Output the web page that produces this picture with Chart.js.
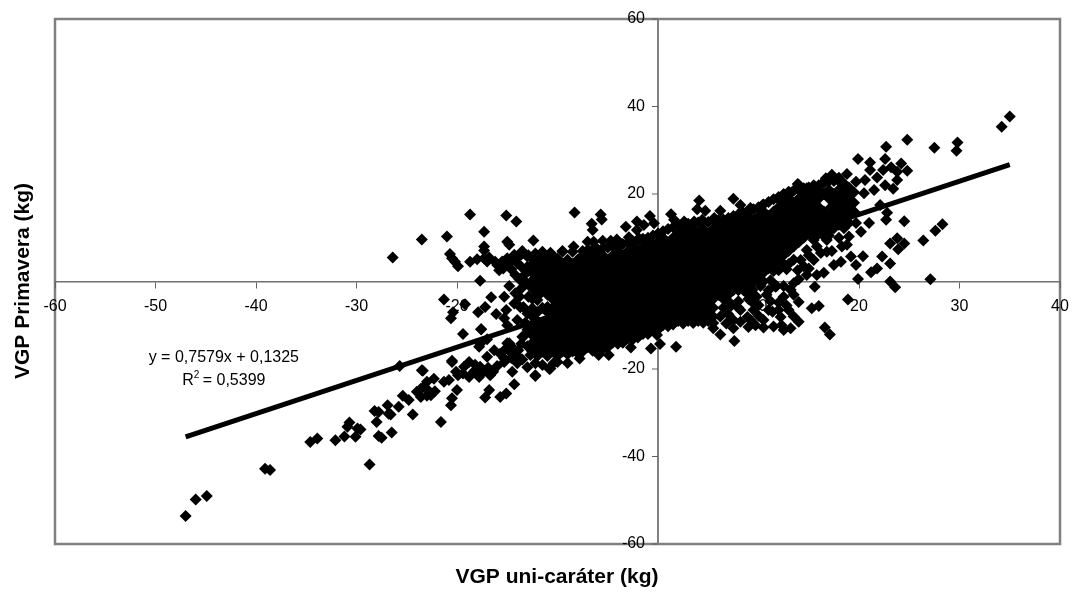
<!DOCTYPE html>
<html>
<head>
<meta charset="utf-8">
<title>VGP</title>
<script src="https://cdn.jsdelivr.net/npm/chart.js@4"></script>
<style>
    body { margin: 0; background: #fff; }
    canvas { display: block; }
</style>
</head>
<body>
<canvas id="chart" width="1072" height="592"></canvas>
<script>
const xTicks = [-60, -50, -40, -30, -20, -10, 0, 10, 20, 30, 40];
const yTicks = [-60, -40, -20, 0, 20, 40, 60];
const xTitle = "VGP uni-caráter (kg)";
const yTitle = "VGP Primavera (kg)";
const equationText = "y = 0,7579x + 0,1325";
const r2Text = " = 0,5399";

const trendX = [-47, 35];
const trendY = [-35.5, 26.7];

const tailPoints = [[-47,-53.6],[-46,-49.8],[-44.9,-49],[-39.1,-42.8],[-38.6,-43.1],[-34.6,-36.7],[-33.9,-35.9],[-32.1,-36.3],[-31.2,-35.4],[-30.9,-33.2],[-30.7,-32.2],[-30.1,-35.5],[-29.9,-33.6],[-29.6,-33.8],[-28.7,-41.8],[-28.2,-29.6],[-27.8,-29.8],[-28,-32.1],[-27.8,-35.3],[-27.5,-35.7],[-26.5,-34.5],[-26.9,-28.3],[-26.8,-30.2],[-26.6,-30.4],[-25.8,-28.6],[-25.4,-26.1],[-24.4,-30.4],[-24.8,-27.1],[-24,-25.2],[-23.5,-20.3],[-23.3,-24.1],[-23.6,-26.4],[-22.6,-26],[-22.3,-22.2],[-23,-22.9],[-21.6,-32.1],[-21.3,-22.9],[-20.6,-28.3],[-20.5,-26.7],[-20,-24.8],[-20.5,-18.1],[-20.1,-20.6],[-20.8,-22.5],[-19.3,-19.5],[-18.8,-18.4],[-18.8,-21.8],[-17.7,-19.5],[-17.8,-21.8],[-16.7,-21.4],[-17.2,-26.5],[-16.8,-24.8],[-15.7,-26.4],[-15.1,-25.6],[-14.3,-23.5],[-16,-19.3],[-17,-17.2],[-16.3,-15.7],[-17.8,-14.9],[-17,-13.2],[-19.4,-12],[-17.6,-10.9],[-15.3,-17.6],[-14.8,-14.1],[-14.5,-20.6],[-14,-18.7],[-14.7,-16.1],[-13.9,-15.7],[-13.5,-12.6],[-12.2,-21.6],[-12.2,-18.7],[-10.8,-20],[-11.5,-19.1],[-12.7,-16.8],[-11.7,-15.7],[-10.4,-18.7],[-23.4,-20.4],[-25.7,-19.3],[-23.6,-24.5],[-22.9,-24.8],[-22.2,-25.1],[-23,-26.1],[-19.9,-21.4],[-19.4,-21],[-18.3,-20.5],[-17.3,-20.4],[-16.9,-19.7],[-16.4,-20.6],[-18.2,-19],[-15.7,-16.5],[-15.2,-15.5],[-14.6,-17.5],[-14,-16.9],[-13.5,-17.8],[-13,-14.8],[-13.6,-14.2],[-13,-19.6],[-14.5,-15],[-13,-11],[-12.5,-12.3],[-11.5,-13],[-13.2,-9.4],[-14,-8.8],[-13.8,-3.5],[-13.7,-5.9]];

const upperLeftPoints = [[-26.4,5.5],[-23.5,9.6],[-21,10.3],[-18.7,15.3],[-17.3,11.4],[-15.1,15.1],[-14.1,13.7],[-12.4,9.4],[-8.3,15.8],[-6.6,13.2],[-6.5,11.8],[-5.7,15.3],[-5.6,14.2],[-3.2,12.5],[-2.1,13.7],[-0.8,15],[-0.4,13.3],[-1.4,12.9],[-2.1,11.8],[-20.7,6.3],[-20.5,5.3],[-19.9,3.5],[-20.2,4.5],[-18.7,4.5],[-18,5.1],[-17.3,8],[-17.3,7.1],[-17.3,5.3],[-16.2,4.5],[-15,9.1],[-14.8,8.4],[-15.8,2.6],[-15,5.3],[-14.3,6.1],[-13.5,7],[-13,5.7],[-14,4.2],[-14.2,1.5],[-13.2,1.7],[-15,3.8],[-12.4,4.9],[-11.5,6.8],[-10.7,6.6],[-9.5,7],[-8.4,8],[-7,9.1],[-6.4,9.1],[-5.5,9.3],[-4.7,9.3],[-4.1,9.6],[-2.9,10.1],[-1.9,9.9],[-0.9,9.1],[0.1,10.6],[-17.7,0.2],[-14.8,-1],[-15.3,-3.5],[-16.6,-3.6],[-14.2,-2.7],[-21.3,-4.1],[-19.2,-5.2],[-17.2,-5.8],[-17.9,-7],[-20.4,-7],[-20.6,-8.4],[-16.1,-7.4],[-15.1,-6.5],[-15.3,-8.4],[-17.6,-10.9],[-15,-10],[-14.3,-5],[-13.4,-5.8],[-12.7,-1.2],[-12.2,1.1],[-10.5,0.3],[-10.9,-1.6],[-12.9,-3.5],[-12,-4.2],[-12.5,-6.1],[-13,-7.3],[-11,-5.8],[-10,-2.7],[-17.7,-14.2],[-15,-14.1],[-13.4,-12.6],[-12.4,-15.7],[-14.3,-17.2],[-15.3,-18.4],[-12.2,-21.4],[-10.7,-19.9],[-9,-18.6],[-7.8,-17.6],[-5.9,-16.8],[-4.9,-16.8],[-2.7,-15.1],[-0.7,-15.3],[0.2,-14.3],[1.8,-14.9],[-0.1,-12.2],[-10,-18.4],[-11,-14.1],[-20.5,-18.4],[-17,4.6],[-16.8,5.5],[-16,3.8],[-15.5,4.6],[-14.6,4.7],[-14,5.4],[-13.6,3.4],[-13,3.4],[-12.6,2.6],[-12.9,6],[-12.2,6.4],[-13.6,6.2],[-12.6,0],[-13.1,-0.3],[-13.8,0.5],[-14.6,2.8],[-15.4,3],[-12.2,-2.4],[-11.9,-3.2],[-13.6,-1.6],[-13.9,-3.2]];

const rightPoints = [[35,37.7],[34.2,35.4],[29.8,31.8],[29.7,29.9],[27.5,30.6],[24.8,32.4],[22.7,30.8],[19.9,28],[21.1,27.2],[22.6,28],[24.2,27],[23.2,26.1],[24.8,25.3],[23.8,25.1],[22.4,25.5],[21.8,23.8],[21.1,25.5],[20.6,23.2],[23.8,23.2],[23.4,21.2],[22.6,22],[21.5,20.9],[20.5,20.2],[22.1,17.5],[22.8,15.7],[22.7,14.1],[24.5,13.8],[28.3,13.1],[27.6,11.6],[26.4,9.4],[24.5,8.7],[23.8,9.9],[23.1,8.7],[23.9,7.4],[22.3,5.7],[23.1,4.1],[20.4,5.8],[21.8,3],[21.2,2.1],[19.9,0.6],[23.1,0],[23.6,-1.3],[27.1,0.5],[18.9,-4.1],[15.6,-1.2],[16,-5.6],[15.3,-6.1],[16.6,-10.5],[17.1,-12.1],[14,-9.2],[13.2,-10.7],[12.5,-11.1],[11.5,-10.3],[9.7,-10],[7.5,-10.7],[6.2,-12.1],[7.6,-13.6],[5.5,-10.7],[10,-5.4],[8.2,-6.5],[8.9,-8.1],[7.5,-8.8],[10.5,-8.8],[11.4,-6.9],[12.2,-8.1],[14,-4.7],[12.5,-3.5],[9.4,-1.9],[13.2,-1.9],[11.7,-1.2],[13.5,-0.4],[13.9,2.6],[11.2,0.3],[15.5,4.9],[16.5,2],[15.8,1.5],[14.2,4.9],[17.3,7],[17.5,3.8],[18.2,4.5],[18.3,8],[19.2,5.7],[19.7,3.8],[19,10.3],[18.8,8.4],[20.2,11.4],[21,13.4],[19.7,13.4],[18.5,12.2],[17.5,12.2],[16.8,9.5],[15.8,8],[14,22.1],[14.8,20.9],[16.7,23.6],[17.3,24.4],[18,23.7],[18.8,24.6],[19.7,22.8],[18.8,21.6],[13.2,20.2],[11.9,19],[10.4,17.5],[7.5,18.9],[9.2,16.8],[8.2,17.5],[6.2,16.2],[4.7,16.2],[4.1,18.5],[3.9,16.5],[5.6,14.5],[1.3,15.4],[1.6,14.1],[2.6,13.7],[3.6,13.7],[4.4,14.1],[13.9,22.3],[14.8,21.3],[16.5,22.8],[6.5,-6],[7,-7.5],[6.2,-8],[8,-4.5],[9,-4],[9.8,-3.5],[10.8,-3],[7.3,-5.5],[9.5,-6.5],[9.2,-8.8],[10,-7.8],[11.2,-4.5],[12.8,-5.5],[13,-6.5],[12.3,-10],[13.5,-8],[8.2,-9.2],[6.8,-9.6],[9,-10.4],[10.5,-10.5],[11.8,-1],[12.8,2.8],[12,2.6],[14.5,3.5],[15,6],[14.8,7.2],[13.5,5],[16.2,6.5],[16.8,6.8],[17,10.5],[18,10],[15.5,9.5],[11,-2],[12.5,-1],[14,0.5],[11.5,2.4],[13,4],[14.8,1.5],[10.2,-1],[9,-3],[8,-6],[7,-4.5],[9.5,-5],[11,-6.5],[12,-6.5],[13.5,-3],[12,-4.8],[15,3],[15.5,18],[16,17],[17.2,17],[17,19],[18,13],[17,11.5],[16.5,10.4],[19,13.4],[18.4,14.6],[17.6,15]];

// the solid middle of the cloud, one column per x: [x, [y, y, ...]]
const coreColumns = [
    [-12.5, [4,2,-4,-8,-10,-14,-16]],
    [-12, [5,3,1,-1,-7,-9,-11,-13,-15,-17]],
    [-11.5, [6,4,2,0,-2,-6,-10,-12,-14,-16]],
    [-11, [5,3,1,-1,-3,-7,-9,-11,-13,-15,-17]],
    [-10.5, [6,4,2,0,-2,-4,-6,-8,-10,-12,-14,-16]],
    [-10, [5.2,3,1,-1,-3,-5,-7,-9,-11,-13,-15,-17]],
    [-9.5, [6.8,4,2,0,-2,-4,-6,-8,-10,-12,-14,-16]],
    [-9, [5,3,1,-1,-3,-5,-7,-9,-11,-13,-15,-16.6]],
    [-8.5, [6.8,4,2,0,-2,-4,-6,-8,-10,-12,-14,-16]],
    [-8, [5,3,1,-1,-3,-5,-7,-9,-11,-13,-15,-16.4]],
    [-7.5, [7,6,4,2,0,-2,-4,-6,-8,-10,-12,-14,-16]],
    [-7, [7.2,5,3,1,-1,-3,-5,-7,-9,-11,-13,-15]],
    [-6.5, [7.4,6,4,2,0,-2,-4,-6,-8,-10,-12,-14,-15.8]],
    [-6, [7.4,5,3,1,-1,-3,-5,-7,-9,-11,-13,-15]],
    [-5.5, [7.6,6,4,2,0,-2,-4,-6,-8,-10,-12,-14,-15.4]],
    [-5, [7.8,5,3,1,-1,-3,-5,-7,-9,-11,-13,-15]],
    [-4.5, [8,6,4,2,0,-2,-4,-6,-8,-10,-12,-14]],
    [-4, [8,7,5,3,1,-1,-3,-5,-7,-9,-11,-13,-14.2]],
    [-3.5, [8.6,6,4,2,0,-2,-4,-6,-8,-10,-12,-14]],
    [-3, [9,7,5,3,1,-1,-3,-5,-7,-9,-11,-13]],
    [-2.5, [9.2,8,6,4,2,0,-2,-4,-6,-8,-10,-12,-13.2]],
    [-2, [9.5,7,5,3,1,-1,-3,-5,-7,-9,-11,-12.8]],
    [-1.5, [9.8,8,6,4,2,0,-2,-4,-6,-8,-10,-12]],
    [-1, [10,9,7,5,3,1,-1,-3,-5,-7,-9,-11,-12]],
    [-0.5, [10.5,8,6,4,2,0,-2,-4,-6,-8,-10,-11]],
    [0, [11,9,7,5,3,1,-1,-3,-5,-7,-9,-11]],
    [0.5, [11.5,10,8,6,4,2,0,-2,-4,-6,-8,-10]],
    [1, [12,9,7,5,3,1,-1,-3,-5,-7,-9,-10.2]],
    [1.5, [12.4,10,8,6,4,2,0,-2,-4,-6,-8,-9.8]],
    [2, [12.9,11,9,7,5,3,1,-1,-3,-5,-7,-9]],
    [2.5, [13,12,10,8,6,4,2,0,-2,-4,-6,-8,-9.6]],
    [3, [13.2,11,9,7,5,3,1,-1,-3,-5,-7,-9]],
    [3.5, [13.3,12,10,8,6,4,2,0,-2,-4,-6,-8,-9.5]],
    [4, [13.5,11,9,7,5,3,1,-1,-3,-5,-7,-9]],
    [4.5, [13.5,12,10,8,6,4,2,0,-2,-4,-6,-8,-9.4]],
    [5, [13.6,11,9,7,5,3,1,-1,-3,-5,-7,-9]],
    [5.5, [14,12,10,8,6,4,2,0,-2,-4,-6,-8,-9.5]],
    [6, [14,13,11,9,7,5,3,1,-1,-3]],
    [6.5, [14.2,12,10,8,6,4,2,0,-2,-4]],
    [7, [14.5,13,11,9,7,5,3,1,-1,-3]],
    [7.5, [15,14,12,10,8,6,4,2,0,-2]],
    [8, [15.4,13,11,9,7,5,3,1,-1,-2]],
    [8.5, [15.7,14,12,10,8,6,4,2,0,-2]],
    [9, [16,15,13,11,9,7,5,3,1,-1]],
    [9.5, [16.5,14,12,10,8,6,4,2,0]],
    [10, [17,15,13,11,9,7,5,3,1]],
    [10.5, [17.6,16,14,12,10,8,6,4,2,0]],
    [11, [18.2,15,13,11,9,7,5,3]],
    [11.5, [18.8,16,14,12,10,8,6,4]],
    [12, [19.3,17,15,13,11,9,7,5]],
    [12.5, [20,18,16,14,12,10,8,6,4]],
    [13, [20.5,19,17,15,13,11,9,7]],
    [13.5, [20.8,18,16,14,12,10,8]],
    [14, [21,19,17,15,13,11,9]],
    [14.5, [21.3,20,18,16,14,12,10]],
    [15, [21.5,19,17,15,13,11]],
    [15.5, [22,20,16,14,12,10]],
    [16, [22,21,19,15,13,11]],
    [16.5, [22.6,20,16,14,12]],
    [17, [23,21,15,13]],
    [17.5, [23,20,18,16,14]],
    [18, [23,21,19,17,15]],
    [18.5, [22.4,20,18,16]],
    [19, [21.5,19,17,15]],
    [19.5, [20.4,18,16]]
];

// flatten everything into what the scatter dataset wants \/
let cloud = [];
tailPoints.concat(upperLeftPoints, rightPoints).forEach(function (p) {
    cloud.push({ x: p[0], y: p[1] });
});
coreColumns.forEach(function (col) {
    col[1].forEach(function (y) {
        cloud.push({ x: col[0], y: y });
    });
});
let trendLine = trendX.map(function (x, i) {
    return { x: x, y: trendY[i] };
});
// flatten everything into what the scatter dataset wants /\

// frame round the plot and the texts that sit away from the axes \/
const framePlugin = {
    id: "frame",
    beforeDraw(chart) {
        let ctx = chart.ctx;
        let a = chart.chartArea;
        ctx.save();
        ctx.fillStyle = "#fff";
        ctx.fillRect(0, 0, chart.width, chart.height);
        ctx.strokeStyle = "#808080";
        ctx.lineWidth = 2.5;
        ctx.strokeRect(a.left, a.top, a.right - a.left, a.bottom - a.top);
        ctx.restore();
    },
    // y ticks go to the left of the axis, a centred axis does not give that by itself
    beforeDatasetsDraw(chart) {
        let ctx = chart.ctx;
        let ys = chart.scales.y;
        let axisX = chart.scales.x.getPixelForValue(0);
        ctx.save();
        ctx.strokeStyle = "#606060";
        ctx.lineWidth = 1;
        ctx.fillStyle = "#000";
        ctx.font = "16px 'Liberation Sans'";
        ctx.textAlign = "right";
        ctx.textBaseline = "middle";
        yTicks.forEach(function (v) {
            let py = ys.getPixelForValue(v);
            ctx.beginPath();
            ctx.moveTo(axisX - 6, py);
            ctx.lineTo(axisX, py);
            ctx.stroke();
            ctx.fillText(String(v), axisX - 13, py);
        });
        ctx.restore();
    },
    afterDraw(chart) {
        let ctx = chart.ctx;
        let xs = chart.scales.x;
        let ys = chart.scales.y;
        ctx.save();
        ctx.fillStyle = "#000";
        ctx.textBaseline = "alphabetic";
        ctx.textAlign = "center";

        ctx.font = "bold 21px 'Liberation Sans'";
        ctx.fillText(xTitle, 557, 583);
        ctx.save();
        ctx.translate(29, 281);
        ctx.rotate(-Math.PI / 2);
        ctx.fillText(yTitle, 0, 0);
        ctx.restore();

        // trendline label, hung on the scales
        let labelX = xs.getPixelForValue(-43.2);
        let labelY = ys.getPixelForValue(-18.3);
        ctx.font = "16px 'Liberation Sans'";
        ctx.fillText(equationText, labelX, labelY);
        ctx.textAlign = "left";
        let w = ctx.measureText(r2Text).width;
        let left = labelX - (w + 16) / 2;
        ctx.fillText("R", left, labelY + 23);
        ctx.fillText(r2Text, left + 16, labelY + 23);
        ctx.font = "10px 'Liberation Sans'";
        ctx.fillText("2", left + 11.5, labelY + 16);
        ctx.restore();
    }
};
// frame round the plot and the texts that sit away from the axes /\

// chart \/
const chartCanvas = document.getElementById("chart");

new Chart(chartCanvas, {
    type: "scatter",
    data: {
        datasets: [{
            data: trendLine,
            showLine: true,
            borderColor: "#000",
            borderWidth: 5,
            pointRadius: 0,
            fill: false
        }, {
            data: cloud,
            showLine: false,
            pointStyle: "rectRot",
            pointRadius: 6,
            pointBorderWidth: 0,
            backgroundColor: "#000",
            borderColor: "#000"
        }]
    },
    options: {
        responsive: false,
        animation: false,
        layout: { autoPadding: false, padding: { left: 55, right: 12, top: 19, bottom: 48 } },
        plugins: {
            legend: { display: false },
            tooltip: { enabled: false },
            title: { display: false }
        },
        scales: {
            x: {
                type: "linear",
                position: { y: 0 },
                min: -60,
                max: 40,
                afterBuildTicks(scale) {
                    scale.ticks = xTicks.map(function (v) { return { value: v }; });
                },
                // the 40 label may hang over the right edge of the plot
                afterFit(scale) {
                    scale.paddingLeft = 0;
                    scale.paddingRight = 0;
                },
                border: { color: "#707070", width: 1.5 },
                grid: { drawOnChartArea: false, tickLength: 6, tickColor: "#606060", tickWidth: 1 },
                ticks: {
                    autoSkip: false,
                    maxRotation: 0,
                    padding: 9,
                    color: "#000",
                    font: { family: "'Liberation Sans'", size: 16 },
                    callback: function (v) { return String(v); }
                }
            },
            y: {
                type: "linear",
                position: { x: 0 },
                min: -60,
                max: 60,
                afterBuildTicks(scale) {
                    scale.ticks = yTicks.map(function (v) { return { value: v }; });
                },
                border: { color: "#808080", width: 2 },
                grid: { drawOnChartArea: false, drawTicks: false },
                ticks: { display: false }
            }
        }
    },
    plugins: [framePlugin]
});
// chart /\
</script>
</body>
</html>
